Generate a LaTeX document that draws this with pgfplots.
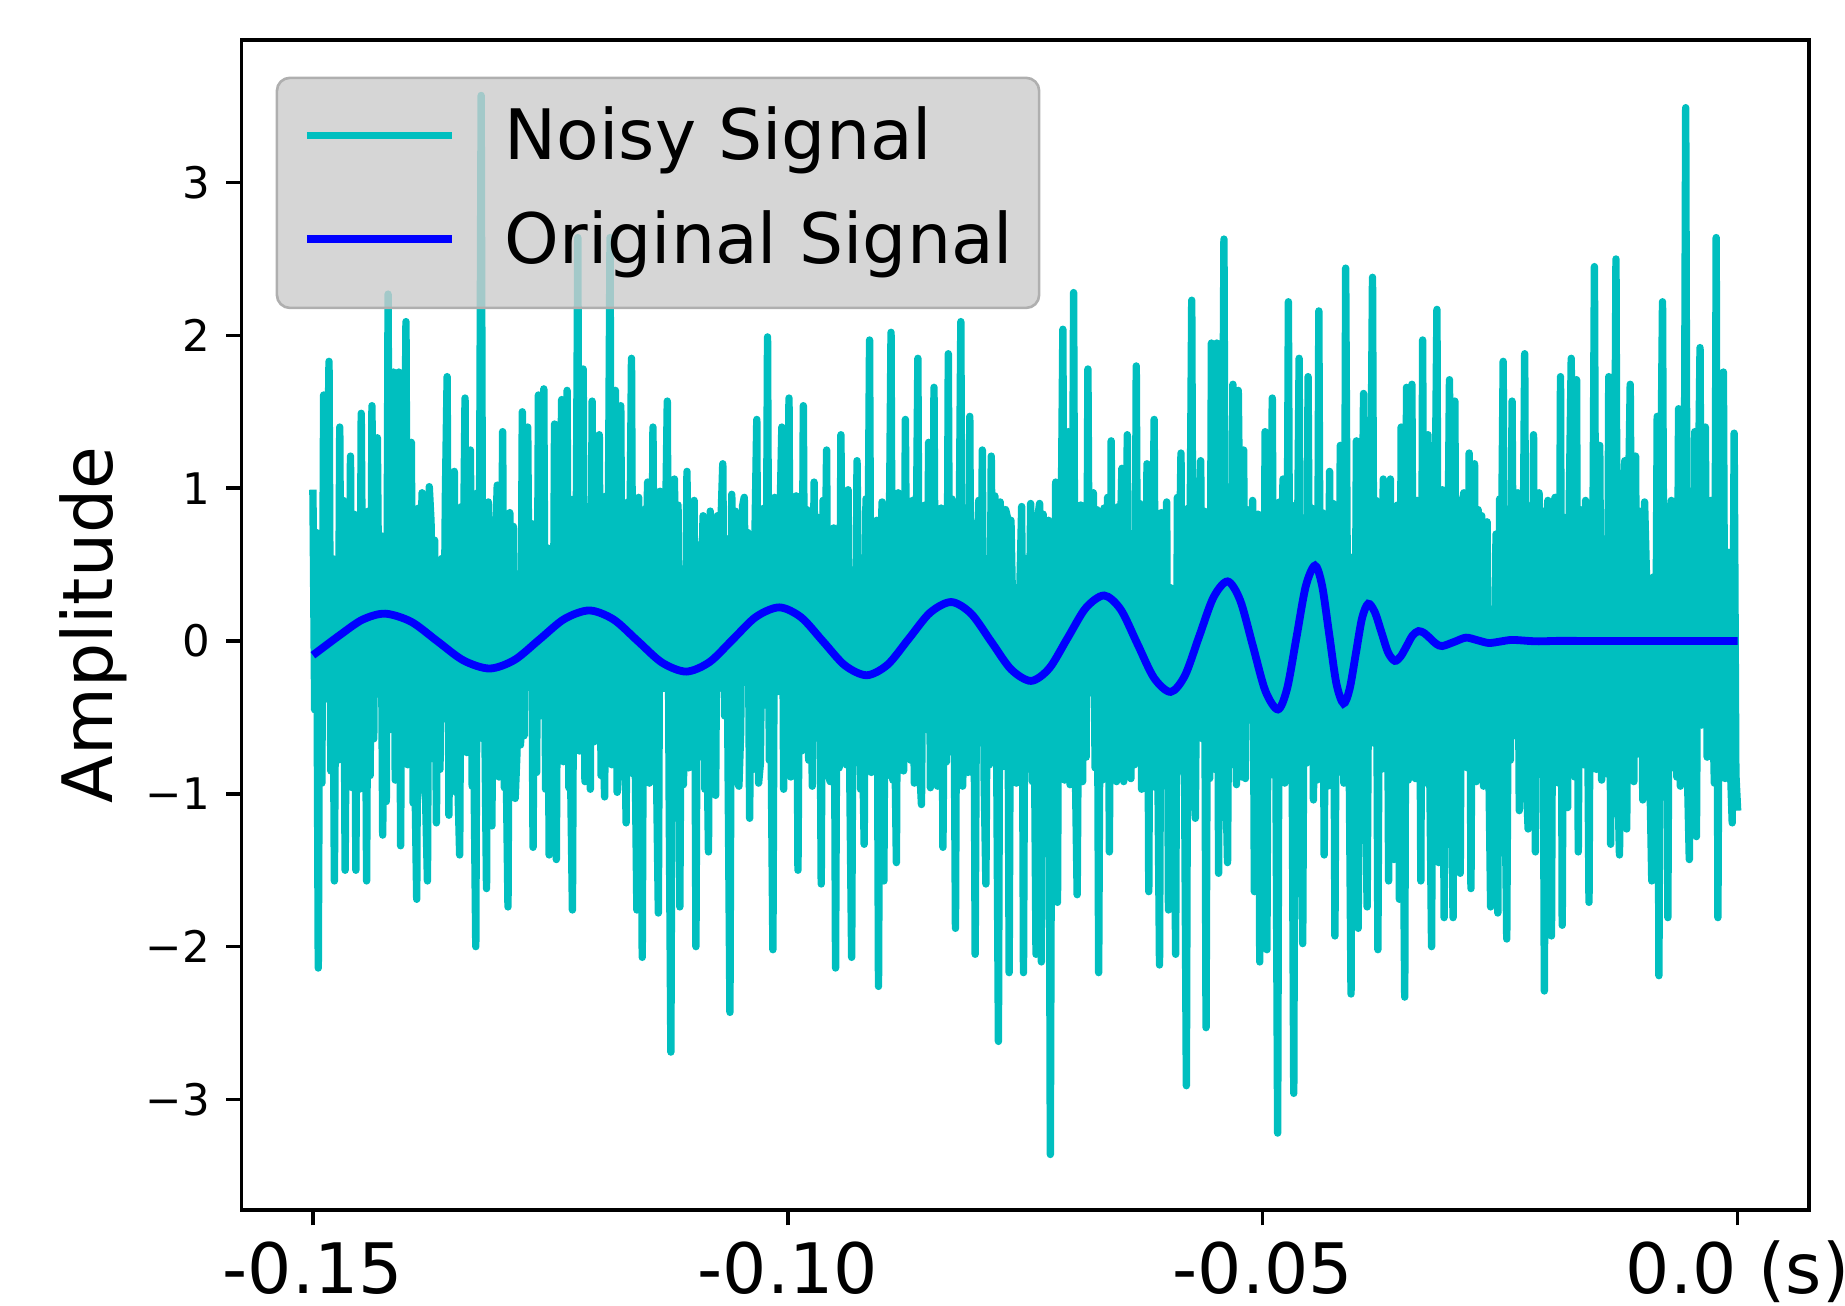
\documentclass[border=0pt]{standalone}
\usepackage{fontspec}
\setmainfont{DejaVu Sans}
\usepackage{pgfplots}
\usepackage{pgfplotstable}
\pgfplotsset{compat=1.18}
\definecolor{mplc}{rgb}{0,0.75,0.75}
\definecolor{mplb}{rgb}{0,0,1}
\definecolor{leggray}{RGB}{204,204,204}
\definecolor{legedge}{RGB}{175,175,175}

% Noisy signal, sampled uniformly from -0.15 s to 0 s
\pgfplotstableread[row sep=\\]{
y\\
0.99\\-0.45\\0.71\\-2.14\\0.62\\-0.93\\1.61\\-0.38\\0.86\\1.83\\-0.85\\0.54\\-1.57\\0.44\\-0.78\\
1.40\\-0.72\\0.92\\-1.50\\0.31\\-0.66\\1.21\\-0.96\\0.83\\-1.50\\0.58\\-0.97\\1.49\\-0.27\\0.74\\
-1.57\\0.85\\-0.88\\1.54\\-0.64\\1.02\\1.33\\-0.12\\0.69\\-1.27\\0.47\\-1.05\\2.27\\-0.58\\0.95\\
1.76\\-0.91\\0.63\\1.76\\-1.34\\0.98\\0.66\\2.09\\-0.81\\-0.42\\1.30\\-1.06\\-0.88\\-1.69\\0.87\\
0.35\\0.97\\-0.92\\-1.05\\-1.57\\1.01\\0.78\\-0.77\\0.66\\-1.19\\0.29\\-0.84\\0.54\\-0.51\\0.93\\
1.73\\-1.14\\0.79\\0.68\\1.11\\-0.99\\-0.93\\-1.40\\0.88\\0.41\\1.59\\-0.73\\-0.22\\1.25\\-0.95\\
-0.84\\-2.00\\0.97\\0.52\\3.57\\-0.64\\-0.47\\-1.62\\0.91\\0.18\\-1.21\\0.76\\0.63\\1.02\\-0.89\\
-0.55\\1.37\\-0.96\\-0.81\\-1.74\\0.84\\0.26\\0.75\\-1.03\\-0.73\\0.44\\-0.68\\1.50\\-0.62\\0.99\\
1.40\\-0.18\\0.77\\-1.35\\0.57\\-0.86\\1.61\\-0.49\\0.94\\1.65\\-0.97\\0.61\\-1.40\\0.38\\-0.91\\
1.42\\-1.43\\0.87\\0.72\\1.58\\-0.79\\-0.34\\1.64\\-0.96\\-0.89\\-1.76\\0.93\\0.46\\2.64\\-0.72\\
-0.53\\1.78\\-0.92\\-0.29\\0.88\\-0.97\\1.57\\-0.66\\0.81\\0.21\\1.35\\-0.88\\-0.58\\-1.02\\0.95\\0.67\\2.64\\-0.81\\
-0.41\\1.64\\-0.99\\-0.76\\1.54\\-0.62\\-0.32\\-1.19\\0.91\\0.49\\1.85\\-0.87\\-0.68\\-1.76\\0.94\\
0.15\\-2.07\\0.86\\0.39\\1.04\\-0.93\\-0.52\\1.40\\-0.77\\-0.87\\-1.78\\0.98\\0.61\\-0.31\\0.72\\1.57\\
-0.94\\-2.69\\0.64\\
1.06\\-0.52\\0.89\\-1.74\\0.38\\-0.94\\-0.21\\1.11\\-0.83\\-0.67\\0.58\\0.92\\-2.00\\0.63\\-0.76\\
0.24\\0.82\\-0.97\\-0.46\\-1.38\\0.85\\0.12\\0.53\\-1.01\\0.82\\-0.31\\0.78\\1.16\\-0.49\\0.67\\
-0.88\\-2.43\\0.96\\0.42\\0.85\\-0.91\\-0.95\\-0.59\\0.88\\0.94\\-0.23\\0.71\\-1.16\\0.37\\-0.84\\
0.71\\1.45\\-0.93\\-0.80\\0.36\\0.87\\-0.42\\1.99\\-0.78\\-0.65\\-2.02\\0.94\\0.27\\-0.33\\0.82\\
1.40\\-0.97\\0.76\\0.48\\1.59\\-0.89\\0.08\\-0.74\\0.95\\-1.50\\0.33\\-0.72\\1.54\\-0.66\\0.86\\
-0.78\\0.61\\-0.95\\1.04\\-0.43\\0.81\\0.27\\-1.59\\0.92\\0.19\\1.25\\-0.87\\-0.92\\0.45\\0.74\\
-2.14\\0.56\\-0.83\\1.35\\-0.37\\0.90\\-0.81\\0.99\\-0.94\\-2.07\\0.44\\-0.79\\1.18\\0.06\\-0.97\\
-0.61\\-1.33\\0.93\\0.28\\1.97\\-0.86\\-0.29\\-0.84\\0.79\\-2.26\\0.35\\0.91\\-1.57\\0.77\\-0.88\\
0.62\\2.02\\-0.91\\-0.55\\-1.45\\0.97\\0.14\\0.73\\-0.85\\1.45\\-0.26\\0.80\\-0.78\\0.92\\-0.93\\
0.51\\1.85\\-0.82\\-1.07\\0.40\\0.89\\-0.58\\1.30\\-0.96\\-0.48\\1.66\\-0.74\\-0.95\\0.31\\0.87\\
-1.35\\0.22\\-0.79\\1.88\\-0.71\\0.93\\0.09\\-1.88\\0.84\\0.57\\2.09\\-0.95\\-0.33\\0.68\\-0.86\\
1.47\\-0.86\\0.77\\-2.05\\0.46\\0.92\\-0.52\\1.25\\-0.88\\-1.59\\0.30\\-0.81\\1.21\\-0.17\\0.95\\
-0.69\\-2.62\\0.91\\0.44\\-0.82\\0.86\\0.81\\-2.17\\0.79\\0.15\\-0.04\\-0.93\\-0.63\\0.36\\0.88\\
-2.17\\0.54\\-0.84\\-0.38\\0.90\\-0.92\\-0.44\\-2.05\\0.81\\
0.90\\-2.10\\0.83\\0.54\\-0.62\\0.79\\-3.36\\0.47\\-0.88\\1.04\\-1.71\\0.95\\0.66\\2.04\\-0.91\\
-0.78\\1.37\\-0.94\\-0.56\\2.28\\-0.85\\-1.66\\0.18\\0.89\\-0.92\\0.52\\-0.76\\1.78\\-0.34\\0.93\\
0.97\\-0.83\\0.86\\-2.17\\0.29\\-0.91\\0.87\\-0.48\\0.94\\-1.38\\1.31\\-0.79\\-0.27\\-0.92\\0.88\\
0.61\\1.13\\-0.92\\-0.15\\1.35\\-0.87\\-0.90\\0.44\\-0.81\\1.80\\-0.63\\0.90\\-0.97\\0.38\\-0.85\\
1.16\\-1.64\\0.93\\0.25\\1.45\\-0.96\\-0.71\\-2.12\\0.84\\0.49\\-0.36\\0.91\\-1.76\\0.35\\-0.79\\
-0.54\\-2.05\\0.94\\0.42\\1.23\\-0.83\\-0.88\\-2.91\\0.87\\0.57\\2.23\\-0.92\\-1.16\\0.31\\0.78\\
1.18\\-0.64\\0.85\\-2.53\\0.72\\-0.90\\1.95\\-0.21\\-0.84\\1.95\\-1.52\\0.93\\0.48\\2.63\\-0.87\\
-1.45\\0.39\\-0.81\\1.68\\-0.26\\-0.94\\1.64\\0.55\\-0.89\\1.25\\-0.90\\0.86\\0.63\\-0.42\\0.92\\
-1.64\\0.27\\0.83\\-2.10\\0.51\\-0.77\\1.37\\-2.02\\0.95\\0.34\\1.59\\-0.88\\-0.73\\-3.22\\0.91\\
0.28\\1.06\\-0.93\\-0.39\\2.22\\-0.86\\-0.51\\-2.96\\0.89\\0.46\\1.85\\-0.92\\-1.98\\0.62\\-0.80\\
1.73\\-0.35\\0.87\\-1.04\\0.37\\-0.91\\2.16\\-0.58\\0.84\\-1.40\\0.24\\-0.95\\1.11\\-0.62\\0.90\\
-1.93\\0.43\\-0.86\\1.28\\-0.32\\-0.93\\2.44\\0.18\\-0.82\\-2.31\\0.55\\-0.89\\1.31\\-1.88\\0.94\\
0.36\\1.62\\-0.91\\-1.74\\0.29\\0.86\\2.38\\-0.67\\0.92\\-2.02\\0.41\\-0.84\\1.06\\-0.45\\0.87\\
-1.57\\1.06\\-0.92\\-1.43\\0.75\\0.89\\-1.69\\1.40\\-0.85\\-2.33\\1.66\\-0.91\\
0.42\\1.68\\-0.88\\-0.90\\0.92\\0.79\\-1.57\\1.97\\-0.93\\-0.44\\1.35\\-0.86\\-2.00\\0.53\\0.91\\
2.17\\-1.45\\0.84\\0.99\\-1.81\\0.92\\0.36\\1.71\\-0.87\\-1.81\\1.57\\-0.94\\-0.27\\-1.52\\0.89\\
0.97\\-0.58\\-0.83\\1.23\\-1.62\\0.90\\1.16\\-0.92\\0.86\\0.33\\0.82\\-0.95\\-0.47\\0.78\\-0.81\\
-1.74\\0.21\\-0.87\\0.70\\-1.78\\0.93\\0.49\\1.83\\-0.89\\-1.95\\0.31\\-0.78\\1.57\\-0.62\\0.94\\
0.97\\-1.11\\0.88\\0.24\\1.88\\-0.91\\-1.23\\0.56\\-0.84\\1.35\\-1.38\\0.90\\0.97\\-0.69\\0.85\\
-2.29\\0.73\\0.92\\-0.36\\-1.93\\0.87\\0.94\\-0.15\\-0.93\\1.73\\-1.86\\0.81\\0.38\\-1.09\\0.94\\
1.85\\-0.52\\-0.89\\1.71\\-1.38\\0.86\\0.63\\-0.81\\0.92\\-0.11\\-1.71\\0.88\\0.44\\2.45\\-0.84\\
-0.32\\1.28\\-0.91\\-0.56\\0.67\\-0.87\\1.73\\-1.33\\0.93\\0.29\\2.50\\-0.86\\-1.40\\0.46\\0.90\\
1.18\\-1.23\\0.87\\1.68\\-0.37\\-0.92\\1.21\\-0.74\\0.85\\0.82\\-1.04\\0.91\\0.42\\-0.29\\-0.88\\
-1.57\\0.42\\-0.86\\1.47\\-2.19\\0.90\\2.22\\-0.48\\0.83\\-1.81\\0.75\\0.92\\-0.83\\0.61\\-0.89\\
1.52\\-0.95\\0.84\\0.27\\3.49\\-0.91\\-1.43\\0.18\\-0.87\\1.37\\-1.28\\0.93\\1.92\\-0.55\\0.86\\
1.40\\-0.76\\0.89\\0.92\\-0.34\\-0.93\\2.64\\-1.81\\0.85\\0.52\\1.76\\-0.90\\-0.41\\0.58\\-0.84\\
-1.19\\1.36\\-0.87\\-1.11\\
}\noise
\pgfplotstablegetrowsof{\noise}
\pgfmathtruncatemacro{\nmax}{\pgfplotsretval-1}

\begin{document}
\begin{tikzpicture}
\begin{axis}[
  scale only axis,
  width=360.3pt, height=269.0pt,
  xmin=-0.1575, xmax=0.0075,
  ymin=-3.724, ymax=3.933,
  axis line style={line width=0.8pt, black},
  tick align=outside,
  tick pos=left,
  major tick length=3.5pt,
  tick style={line width=0.8pt, black},
  minor tick num=0,
  xtick={-0.15,-0.10,-0.05,0},
  xticklabels={-0.15,-0.10,-0.05,0.0 (s)},
  ytick={-3,-2,-1,0,1,2,3},
  yticklabels={−3,−2,−1,0,1,2,3},
  xticklabel style={font=\fontsize{16}{19.2}\selectfont, text height=12.2pt, inner sep=3.3pt},
  yticklabel style={font=\fontsize{10}{12}\selectfont, inner xsep=3.6pt},
  ylabel={Amplitude},
  ylabel style={at={(axis description cs:-0.0946,0.5)}, anchor=center, font=\fontsize{16}{19.2}\selectfont},
  legend cell align=left,
  legend image code/.code={\draw[#1,line cap=butt,draw opacity=1] (0pt,1.3pt) -- (33.3pt,1.3pt);},
  legend style={
    at={(axis description cs:0,1)}, anchor=north west,
    xshift=7.8pt, yshift=-8.4pt,
    fill=leggray, fill opacity=0.8, draw opacity=1, text opacity=1,
    draw=legedge, line width=0.6pt, rounded corners=3pt,
    inner xsep=6pt, inner ysep=6.5pt,
    row sep=7.9pt, column sep=11.3pt,
    font=\fontsize{16}{19.2}\selectfont,
    nodes={inner sep=0pt, text height=12.2pt, text depth=3.8pt},
  },
]
\addplot[mplc, line width=1.7pt, line join=round, no markers]
  table[x expr={-0.15+0.15*\coordindex/\nmax}, y=y] {\noise};
\addplot[mplb, line width=1.8pt, smooth, no markers] coordinates {
(-0.1500,-0.093) (-0.1472,0.037) (-0.1448,0.139) (-0.1424,0.179)
(-0.13965,0.126) (-0.1369,-0.001) (-0.13415,-0.127) (-0.1314,-0.180)
(-0.12878,-0.124) (-0.12615,0.010) (-0.12353,0.144) (-0.1209,0.200)
(-0.11835,0.141) (-0.1158,0.000) (-0.11325,-0.141) (-0.1107,-0.200)
(-0.10825,-0.138) (-0.1058,0.010) (-0.10335,0.158) (-0.1009,0.220)
(-0.0986,0.155) (-0.0963,-0.002) (-0.0940,-0.159) (-0.0917,-0.224)
(-0.08948,-0.154) (-0.08725,0.016) (-0.08503,0.185) (-0.0828,0.255)
(-0.0807,0.179) (-0.0786,-0.003) (-0.0765,-0.185) (-0.0744,-0.261)
(-0.07248,-0.179) (-0.07055,0.019) (-0.06863,0.216) (-0.0667,0.298)
(-0.06495,0.206) (-0.0632,-0.018) (-0.06145,-0.241) (-0.0597,-0.333)
(-0.0582,-0.227) (-0.0567,0.029) (-0.0552,0.284) (-0.0537,0.390)
(-0.05238,0.267) (-0.05105,-0.029) (-0.04973,-0.325) (-0.0484,-0.448)
(-0.04743,-0.310) (-0.04645,0.023) (-0.04548,0.356) (-0.0445,0.494)
(-0.04375,0.362) (-0.0430,0.043) (-0.04225,-0.277) (-0.0415,-0.409)
(-0.04085,-0.313) (-0.0402,-0.083) (-0.03955,0.148) (-0.0389,0.244)
(-0.0382,0.189) (-0.0375,0.057) (-0.0368,-0.075) (-0.0361,-0.130)
(-0.03548,-0.101) (-0.03485,-0.033) (-0.03423,0.036) (-0.0336,0.065)
(-0.03298,0.051) (-0.03235,0.016) (-0.03173,-0.019) (-0.0311,-0.033)
(-0.02985,-0.006) (-0.0286,0.022) (-0.0274,0.005) (-0.0262,-0.013)
(-0.02495,-0.003) (-0.0237,0.007) (-0.0212,-0.002) (-0.0187,0.001)
(-0.0150,0.000) (-0.0100,0.000) (-0.0050,0.000) (0.0000,0.000)
};
\legend{Noisy Signal, Original Signal}
\end{axis}
\pgfresetboundingbox
\path ([shift={(-55.56pt,-22.0pt)}]current axis.south west) rectangle ([shift={(8.3pt,9.2pt)}]current axis.north east);
\end{tikzpicture}
\end{document}
